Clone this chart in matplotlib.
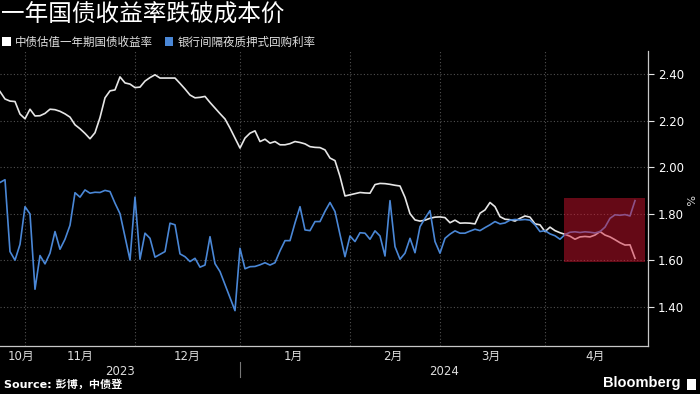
import matplotlib
matplotlib.use("Agg")
import matplotlib.pyplot as plt
from matplotlib.patches import Rectangle, Patch
import matplotlib.transforms as mtransforms

plt.rcParams['font.family'] = ['DejaVu Sans', 'Noto Sans CJK SC']

# ---- data (one value per trading day, 2023-10-25 .. 2024-04-24) ----
bond_1y = [
    2.325, 2.293, 2.284, 2.282, 2.228, 2.208, 2.249, 2.220, 2.221, 2.231,
    2.249, 2.247, 2.240, 2.229, 2.215, 2.182, 2.165, 2.145, 2.122, 2.148,
    2.213, 2.298, 2.328, 2.332, 2.388, 2.362, 2.357, 2.342, 2.344, 2.370,
    2.385, 2.397, 2.383, 2.383, 2.383, 2.383, 2.360, 2.336, 2.310, 2.298,
    2.300, 2.304, 2.278, 2.254, 2.230, 2.207, 2.168, 2.125, 2.082, 2.125,
    2.146, 2.156, 2.110, 2.120, 2.103, 2.110, 2.096, 2.096, 2.101, 2.110,
    2.106, 2.100, 2.088, 2.085, 2.084, 2.074, 2.039, 2.028, 1.960, 1.876,
    1.881, 1.886, 1.891, 1.889, 1.888, 1.925, 1.930, 1.929, 1.926, 1.922,
    1.919, 1.870, 1.800, 1.773, 1.768, 1.772, 1.780, 1.785, 1.786, 1.783,
    1.761, 1.772, 1.759, 1.760, 1.759, 1.756, 1.802, 1.816, 1.848, 1.830,
    1.787, 1.776, 1.774, 1.768, 1.780, 1.790, 1.785, 1.756, 1.752, 1.723,
    1.742, 1.727, 1.718, 1.711, 1.703, 1.690, 1.700, 1.702, 1.700, 1.708,
    1.723, 1.708, 1.700, 1.688, 1.675, 1.665, 1.666, 1.608,
]
repo_on = [
    1.934, 1.946, 1.637, 1.600, 1.668, 1.830, 1.799, 1.475, 1.620, 1.584,
    1.630, 1.723, 1.647, 1.690, 1.750, 1.890, 1.871, 1.902, 1.888, 1.892,
    1.891, 1.900, 1.895, 1.845, 1.800, 1.700, 1.601, 1.871, 1.604, 1.716,
    1.694, 1.613, 1.625, 1.637, 1.759, 1.752, 1.627, 1.615, 1.594, 1.608,
    1.570, 1.579, 1.701, 1.585, 1.551, 1.495, 1.440, 1.383, 1.651, 1.563,
    1.572, 1.573, 1.580, 1.589, 1.579, 1.589, 1.640, 1.684, 1.684, 1.760,
    1.830, 1.730, 1.727, 1.766, 1.766, 1.810, 1.848, 1.809, 1.710, 1.615,
    1.704, 1.680, 1.718, 1.716, 1.690, 1.726, 1.704, 1.618, 1.856, 1.658,
    1.604, 1.630, 1.694, 1.632, 1.744, 1.780, 1.813, 1.680, 1.630, 1.694,
    1.712, 1.726, 1.716, 1.716, 1.725, 1.733, 1.727, 1.740, 1.752, 1.766,
    1.756, 1.760, 1.772, 1.775, 1.773, 1.775, 1.772, 1.752, 1.723, 1.727,
    1.713, 1.705, 1.690, 1.710, 1.720, 1.722, 1.719, 1.722, 1.720, 1.717,
    1.723, 1.742, 1.780, 1.795, 1.793, 1.796, 1.790, 1.856,
]
month_starts = [5, 27, 48, 70, 88, 109]          # trading-day index of 1st day of month
month_label_pos = [4.2, 16, 37.4, 58.6, 78.6, 98.2, 119]
month_labels = ['10月', '11月', '12月', '1月', '2月', '3月', '4月']
year_labels = ['2023', '2024']
year_label_pos = [24, 88.8]
year_split = 48
y_ticks = [1.40, 1.60, 1.80, 2.00, 2.20, 2.40]
highlight_x = (112.8, 128.9)
highlight_y = (1.594, 1.869)

title = '一年国债收益率跌破成本价'
name_bond = '中债估值一年期国债收益率'
name_repo = '银行间隔夜质押式回购利率'

# ---- figure ----
W, H = 700, 394
fig = plt.figure(figsize=(W / 100, H / 100), dpi=100, facecolor='black')
ax_left, ax_right, ax_top, ax_bot = 0, 648, 51.3, 346
ax = fig.add_axes([ax_left / W, 1 - ax_bot / H, (ax_right - ax_left) / W, (ax_bot - ax_top) / H])
ax.set_facecolor('black')

white_c = '#e6e6e6'
blue_c = '#4a87d6'
grid_c = '#505050'

x = list(range(len(bond_1y)))
ax.plot(x, bond_1y, color=white_c, lw=1.2, zorder=3, solid_joinstyle='round')
ax.plot(x, repo_on, color=blue_c, lw=1.2, zorder=3, solid_joinstyle='round')

ax.add_patch(Rectangle((highlight_x[0], highlight_y[0]), highlight_x[1] - highlight_x[0],
                       highlight_y[1] - highlight_y[0], facecolor='#d81530', alpha=0.47,
                       edgecolor='none', zorder=4))

ax.set_xlim(0, 129.6)
ax.set_ylim(1.231, 2.498)

# y axis on right
ax.yaxis.tick_right()
ax.set_yticks(y_ticks)
ax.set_yticklabels([f'{v:.2f}' for v in y_ticks])
ax.tick_params(axis='y', colors=white_c, labelsize=8.5, length=4, width=0.8, pad=3,
               labelcolor='white')

# x axis: gridlines at month starts, labels centred in months
ax.set_xticks(month_starts)
ax.set_xticklabels([''] * len(month_starts))
ax.set_xticks(month_label_pos, minor=True)
ax.set_xticklabels(month_labels, minor=True)
ax.tick_params(axis='x', which='both', length=0, pad=3)
ax.tick_params(axis='x', which='minor', labelsize=8.5, labelcolor='#dddddd')

ax.grid(True, which='major', color=grid_c, lw=0.8, linestyle=(0, (1, 2)))
ax.set_axisbelow(True)

for s in ['top', 'left']:
    ax.spines[s].set_visible(False)
for s in ['bottom', 'right']:
    ax.spines[s].set_color('#c8c8c8')
    ax.spines[s].set_linewidth(0.9)

trans = mtransforms.blended_transform_factory(ax.transData, ax.transAxes)
for lab, pos in zip(year_labels, year_label_pos):
    ax.text(pos, -0.085, lab, transform=trans, ha='center', va='center',
            fontsize=8.5, color='#dddddd')
ax.plot([year_split, year_split], [-0.054, -0.105], transform=trans, color='#777777',
        lw=0.8, clip_on=False)

# % label
fig.text(688 / W, 1 - 200 / H, '%', rotation=270, ha='center', va='center',
         fontsize=8, color='#dddddd')

# title
fig.text(1 / W, 1 - 15 / H, title, ha='left', va='center', fontsize=17,
         color='white', family=['Noto Sans CJK SC'])

# legend
handles = [Patch(facecolor='white', edgecolor='none', label=name_bond),
           Patch(facecolor=blue_c, edgecolor='none', label=name_repo)]
leg = fig.legend(handles=handles, loc='center left', bbox_to_anchor=(0 / W, 1 - 42 / H),
                 ncol=2, frameon=False, handlelength=0.75, handleheight=0.75,
                 handletextpad=0.35, columnspacing=1.0, borderaxespad=0, borderpad=0.2,
                 prop={'family': ['Noto Sans CJK SC'], 'size': 8.3})
for t in leg.get_texts():
    t.set_color('#e0e0e0')

# source & brand
fig.text(4 / W, 1 - 384 / H, 'Source: 彭博，中债登', ha='left', va='center', fontsize=8,
         color='white', fontweight='bold', family=['DejaVu Sans', 'Noto Sans CJK SC'])
fig.text(681 / W, 1 - 383 / H, 'Bloomberg', ha='right', va='center', fontsize=10.5,
         color='white', fontweight='bold', family=['Liberation Sans'])
fig.patches.append(Rectangle((687 / W, 1 - 390 / H), 9 / W, 11 / H, transform=fig.transFigure,
                             facecolor='white', edgecolor='none'))

fig.savefig('out.png', dpi=100, facecolor='black')
